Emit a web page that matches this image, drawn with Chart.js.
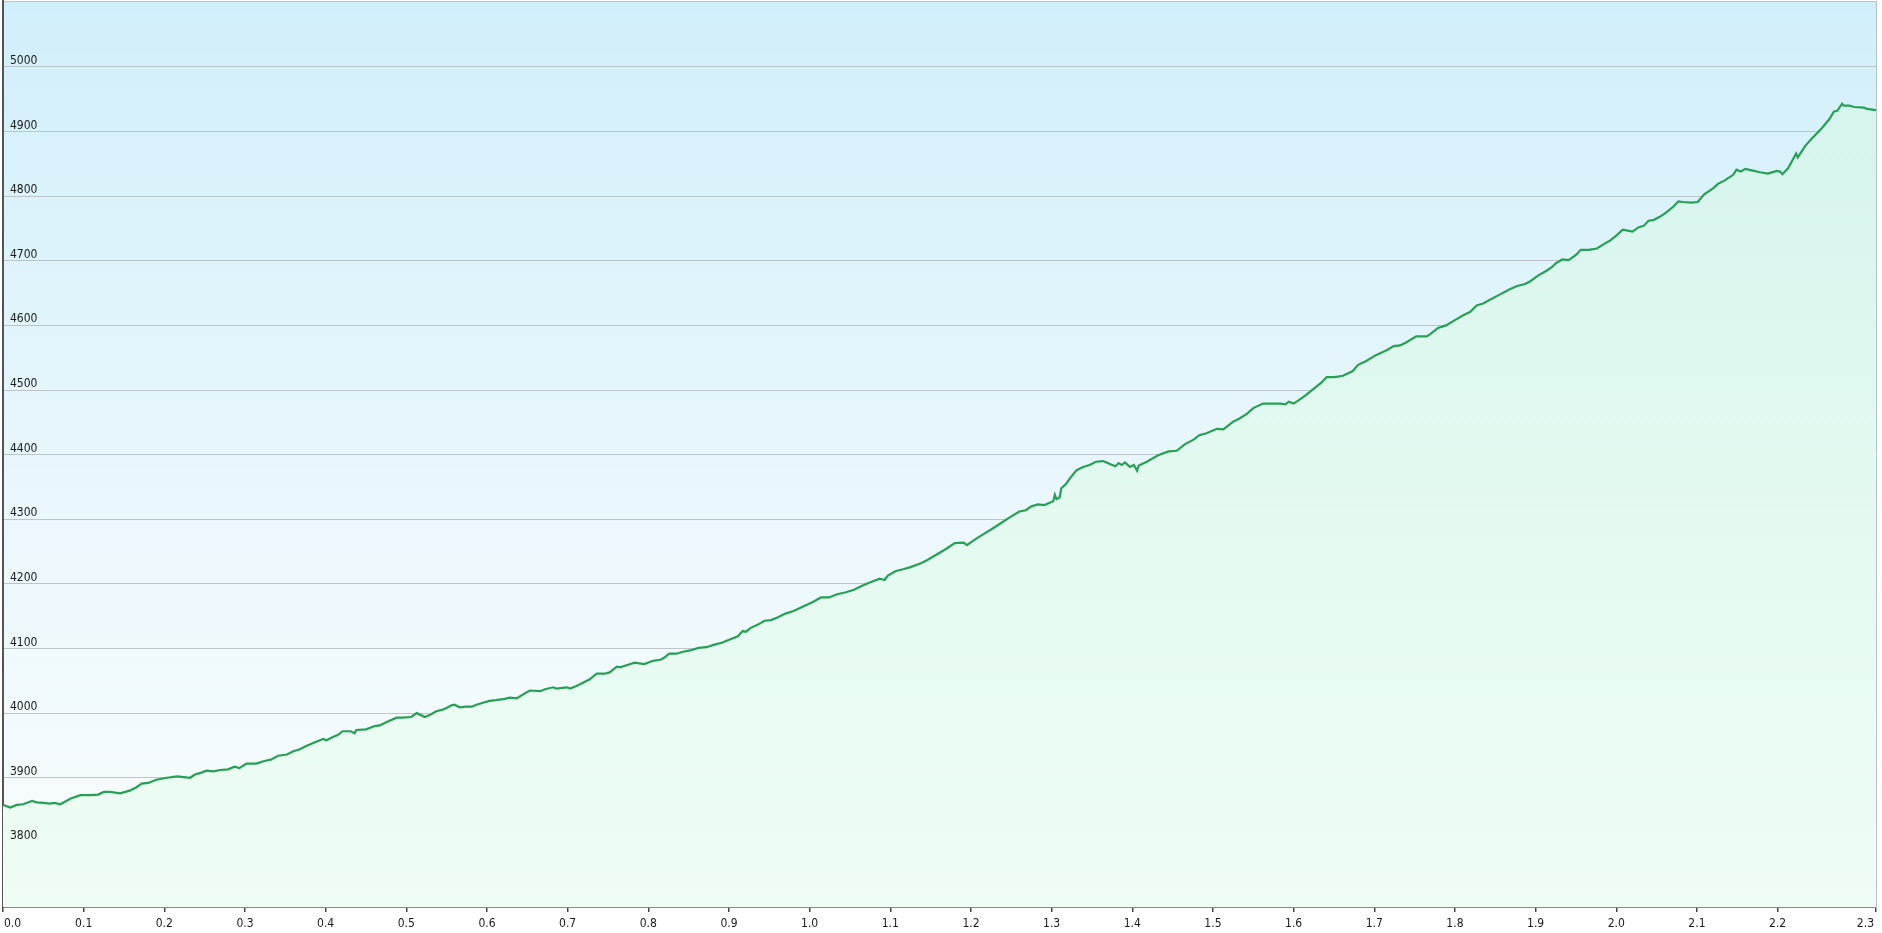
<!DOCTYPE html>
<html>
<head>
<meta charset="utf-8">
<script src="https://cdn.jsdelivr.net/npm/chart.js@4.4.1/dist/chart.umd.min.js"></script>
<style>
  html, body { margin: 0; padding: 0; background: #ffffff; overflow: hidden; }
  #c { display: block; }
</style>
</head>
<body>
<canvas id="c" width="1882" height="933"></canvas>
<script>
// Distance (km) along the route
const distanceKm = [
  0.000,0.009,0.017,0.025,0.036,0.042,0.050,0.058,0.064,0.071,0.084,0.096,0.108,0.118,0.125,0.133,0.145,0.157,0.165,0.172,
  0.180,0.190,0.203,0.216,0.224,0.232,0.238,0.246,0.252,0.261,0.269,0.279,0.287,0.293,0.302,0.314,0.324,0.332,0.341,0.352,
  0.360,0.368,0.376,0.389,0.397,0.401,0.409,0.415,0.421,0.431,0.436,0.438,0.450,0.461,0.467,0.475,0.488,0.496,0.506,0.513,
  0.523,0.529,0.537,0.544,0.550,0.556,0.560,0.566,0.574,0.581,0.587,0.595,0.603,0.611,0.622,0.628,0.637,0.645,0.653,0.666,
  0.672,0.682,0.686,0.699,0.703,0.711,0.719,0.727,0.736,0.746,0.752,0.761,0.765,0.773,0.783,0.795,0.806,0.816,0.820,0.826,
  0.835,0.843,0.852,0.862,0.872,0.882,0.891,0.901,0.911,0.917,0.921,0.927,0.936,0.944,0.952,0.960,0.970,0.980,0.992,1.004,
  1.014,1.024,1.034,1.045,1.055,1.065,1.076,1.087,1.093,1.097,1.107,1.117,1.125,1.138,1.146,1.157,1.169,1.180,1.191,1.195,
  1.203,1.213,1.226,1.236,1.248,1.260,1.268,1.275,1.283,1.291,1.302,1.304,1.306,1.310,1.312,1.318,1.325,1.331,1.339,1.347,
  1.355,1.364,1.373,1.379,1.383,1.387,1.391,1.397,1.402,1.406,1.408,1.418,1.432,1.445,1.455,1.465,1.477,1.483,1.492,1.505,
  1.513,1.525,1.533,1.542,1.550,1.562,1.572,1.584,1.590,1.594,1.600,1.606,1.614,1.624,1.634,1.641,1.651,1.661,1.673,1.680,
  1.690,1.702,1.716,1.724,1.732,1.740,1.752,1.765,1.771,1.779,1.789,1.801,1.811,1.819,1.827,1.835,1.844,1.856,1.868,1.877,
  1.887,1.893,1.903,1.914,1.920,1.925,1.933,1.941,1.950,1.956,1.966,1.976,1.986,1.992,2.000,2.008,2.020,2.028,2.034,2.040,
  2.046,2.054,2.062,2.071,2.077,2.083,2.093,2.101,2.109,2.120,2.126,2.134,2.145,2.149,2.154,2.160,2.168,2.178,2.188,2.199,
  2.203,2.206,2.213,2.223,2.225,2.235,2.244,2.254,2.264,2.270,2.274,2.280,2.282,2.289,2.295,2.307,2.311,2.322
];
// Elevation (m)
const elevationM = [
  3858,3854,3858,3859,3864,3862,3861,3860,3861,3859,3868,3873,3873,3874,3878,3878,3876,3880,3885,3891,
  3892,3897,3900,3902,3901,3900,3905,3908,3911,3910,3912,3913,3917,3915,3922,3922,3926,3928,3934,3936,
  3941,3944,3949,3956,3960,3958,3963,3966,3972,3972,3969,3974,3975,3980,3981,3986,3993,3993,3994,4000,
  3994,3997,4003,4005,4008,4012,4013,4009,4010,4010,4013,4016,4019,4020,4022,4024,4023,4029,4035,4034,
  4037,4040,4038,4040,4038,4042,4047,4052,4061,4061,4063,4072,4071,4074,4078,4076,4081,4083,4086,4092,
  4092,4095,4097,4101,4102,4106,4109,4114,4119,4127,4126,4132,4137,4143,4144,4148,4154,4158,4165,4172,
  4179,4179,4184,4187,4191,4197,4203,4208,4206,4213,4220,4223,4226,4232,4237,4245,4254,4263,4264,4260,
  4267,4275,4285,4293,4303,4312,4314,4320,4323,4322,4328,4338,4331,4334,4348,4355,4367,4376,4381,4384,
  4389,4390,4385,4382,4387,4384,4388,4381,4384,4375,4383,4389,4399,4405,4406,4416,4424,4430,4433,4440,
  4439,4451,4456,4463,4472,4479,4479,4479,4478,4482,4479,4484,4491,4501,4511,4520,4520,4522,4529,4539,
  4545,4554,4562,4568,4569,4574,4583,4583,4588,4596,4600,4609,4616,4621,4631,4634,4640,4648,4656,4661,
  4664,4668,4677,4685,4690,4696,4702,4701,4709,4717,4717,4719,4727,4731,4739,4748,4745,4752,4754,4762,
  4763,4768,4775,4784,4792,4791,4790,4791,4803,4812,4819,4824,4833,4841,4838,4842,4840,4837,4835,4839,
  4838,4834,4843,4866,4860,4879,4891,4904,4919,4931,4932,4943,4940,4940,4938,4937,4935,4933
];
// Axis ranges and ticks
const xMin = 0, xMax = 2.322;
const yMin = 3700, yMax = 5102;
const xTickValues = [0, 0.1, 0.2, 0.3, 0.4, 0.5, 0.6, 0.7, 0.8, 0.9, 1.0, 1.1, 1.2,
                     1.3, 1.4, 1.5, 1.6, 1.7, 1.8, 1.9, 2.0, 2.1, 2.2, 2.322];
const xTickLabels = ['0.0','0.1','0.2','0.3','0.4','0.5','0.6','0.7','0.8','0.9','1.0','1.1','1.2',
                     '1.3','1.4','1.5','1.6','1.7','1.8','1.9','2.0','2.1','2.2','2.3'];
const yTickLabels = ['3800','3900','4000','4100','4200','4300','4400','4500','4600','4700','4800','4900','5000'];

const points = distanceKm.map((d, i) => ({ x: d, y: elevationM[i] }));
const FONT = "12px 'DejaVu Sans Condensed', 'Liberation Sans', Arial, sans-serif";

const bgPlugin = {
  id: 'bgPlugin',
  beforeDraw(chart) {
    const { ctx, chartArea: a } = chart;
    ctx.save();
    ctx.fillStyle = '#ffffff';
    ctx.fillRect(0, 0, chart.width, chart.height);
    const g = ctx.createLinearGradient(0, a.top, 0, a.bottom);
    g.addColorStop(0, '#d1effa');
    g.addColorStop(0.55, '#eaf7fc');
    g.addColorStop(1, '#fafdfe');
    ctx.fillStyle = g;
    ctx.fillRect(a.left, a.top, a.right - a.left, a.bottom - a.top);
    ctx.restore();
  }
};

const labelPlugin = {
  id: 'labelPlugin',
  afterDraw(chart) {
    const { ctx, chartArea: a } = chart;
    const xs = chart.scales.x, ys = chart.scales.y;
    ctx.save();
    ctx.font = FONT;
    ctx.fillStyle = '#1a1a1a';
    ctx.textBaseline = 'alphabetic';
    yTickLabels.forEach(lbl => {
      const py = ys.getPixelForValue(Number(lbl));
      ctx.textAlign = 'left';
      ctx.fillText(lbl, a.left + 7, py - 3);
    });
    const n = xTickLabels.length;
    xTickLabels.forEach((lbl, i) => {
      const px = xs.getPixelForValue(xTickValues[i]);
      ctx.textAlign = i === 0 ? 'left' : (i === n - 1 ? 'right' : 'center');
      ctx.fillText(lbl, px + (i === 0 ? 1 : (i === n - 1 ? -2 : 0)), 927);
    });
    ctx.restore();
  }
};

new Chart(document.getElementById('c'), {
  type: 'line',
  data: {
    datasets: [{
      data: points,
      borderColor: '#26a055',
      borderWidth: 2.2,
      pointRadius: 0,
      tension: 0,
      fill: 'start',
      backgroundColor(context) {
        const { ctx, chartArea } = context.chart;
        if (!chartArea) return 'rgba(200,245,225,0.5)';
        const g = ctx.createLinearGradient(0, chartArea.top, 0, chartArea.bottom);
        g.addColorStop(0, '#d2f3ec');
        g.addColorStop(0.5, '#e2f9f0');
        g.addColorStop(1, '#effdf4');
        return g;
      }
    }]
  },
  options: {
    responsive: false,
    animation: false,
    devicePixelRatio: 1,
    layout: { padding: { left: 3, right: 6, top: 1, bottom: 21 } },
    plugins: { legend: { display: false }, tooltip: { enabled: false } },
    scales: {
      x: {
        type: 'linear', min: xMin, max: xMax,
        afterBuildTicks(scale) { scale.ticks = xTickValues.map(v => ({ value: v })); },
        ticks: { display: false },
        grid: { drawOnChartArea: false, drawTicks: true, tickLength: 5, color: '#444', lineWidth: 1.5 },
        border: { display: true, color: '#555', width: 1.5 }
      },
      y: {
        type: 'linear', min: yMin, max: yMax, position: 'left',
        afterBuildTicks(scale) {
          scale.ticks = [yMin].concat(yTickLabels.map(Number), [yMax]).map(v => ({ value: v }));
        },
        ticks: { display: false },
        grid: { drawTicks: false, color: '#bcc5c9', lineWidth: 1 },
        border: { display: true, color: '#555', width: 2 }
      },
      y2: {
        type: 'linear', min: yMin, max: yMax, position: 'right',
        ticks: { display: false },
        grid: { display: false, drawTicks: false },
        border: { display: true, color: '#b8c0c4', width: 1 }
      }
    }
  },
  plugins: [bgPlugin, labelPlugin]
});
</script>
</body>
</html>
